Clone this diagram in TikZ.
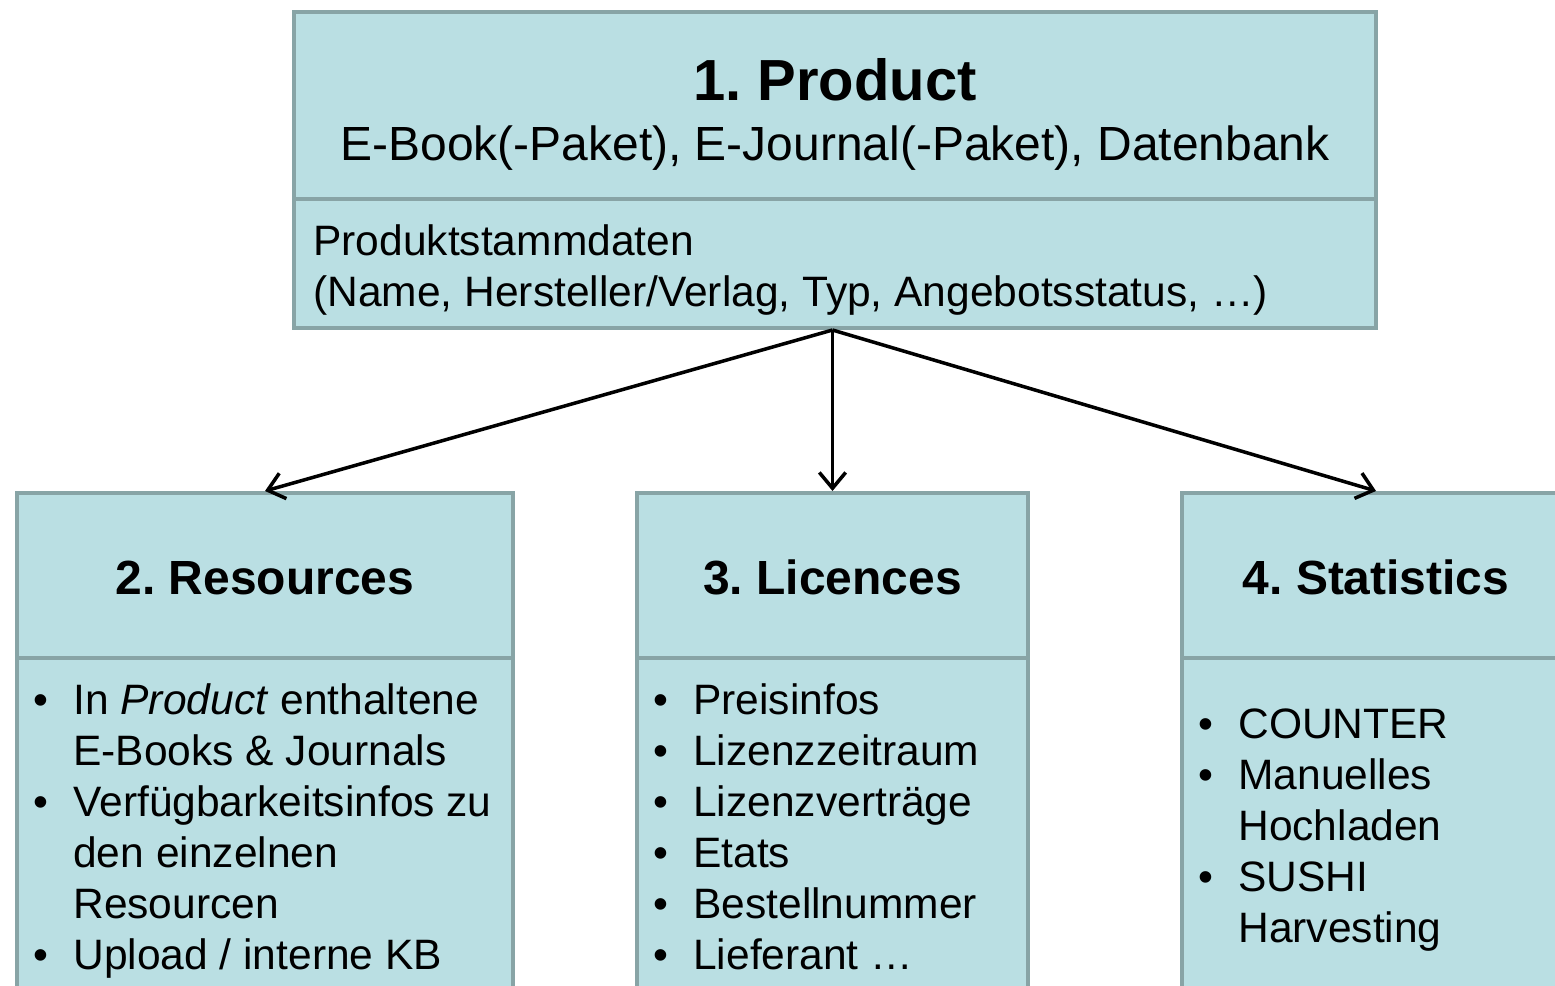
\documentclass[tikz,border=0pt]{standalone}
\usepackage{fontspec}
\setmainfont{Liberation Sans}
\usetikzlibrary{arrows.meta}
\definecolor{boxfill}{HTML}{BADFE3}
\definecolor{boxline}{HTML}{88A4A6}
\newcommand{\itm}{\makebox[0.8cm][l]{\textbullet}}
\newcommand{\cnt}{\hspace*{0.8cm}}
\frenchspacing

\begin{document}
\begin{tikzpicture}
      [x = 0.02cm, y = -0.02cm,
      box/.style = {
         draw = boxline,
         fill = boxfill,
         line width = 2.3pt,
         inner sep = 0pt
      },
      title/.style = {font = \fontsize{33}{38}\selectfont\bfseries, inner sep = 0pt, anchor = base},
      head/.style = {font = \fontsize{27.3}{32}\selectfont\bfseries, inner sep = 0pt, anchor = base},
      sub/.style = {font = \fontsize{27.3}{32}\selectfont, inner sep = 0pt, anchor = base},
      txt/.style = {font = \fontsize{24.2}{29}\selectfont, inner sep = 0pt, anchor = base west, align = left},
      link/.style = {-{Straight Barb[length = 9pt, width = 15pt]}, line width = 2pt}]

      \useasboundingbox (0, 0) rectangle (1555, 985);
      \clip (0, 0) rectangle (1555, 985);

      % product box
      \node[box, minimum width = 21.64cm, minimum height = 2.58cm] (proddata) at (835, 263.5) {};
      \node[box, minimum width = 21.64cm, minimum height = 3.74cm] (prodhead) at (835, 105.5) {};
      \node[title] (prodtitle) at (835, 100) {1. Product};
      \node[sub] (prodsub) at (835, 160) {E-Book(-Paket), E-Journal(-Paket), Datenbank};
      \node[txt] (prodinfo) at (313, 306) {Produktstammdaten\\(Name, Hersteller/Verlag, Typ, Angebotsstatus, …)};

      % lower boxes
      \node[box, minimum width = 9.92cm, minimum height = 7.24cm] (resdata) at (265, 839) {};
      \node[box, minimum width = 9.92cm, minimum height = 3.3cm] (reshead) at (265, 575.5) {};
      \node[box, minimum width = 7.82cm, minimum height = 7.24cm] (licdata) at (832.5, 839) {};
      \node[box, minimum width = 7.82cm, minimum height = 3.3cm] (lichead) at (832.5, 575.5) {};
      \node[box, minimum width = 8.36cm, minimum height = 7.24cm] (statdata) at (1391, 839) {};
      \node[box, minimum width = 8.36cm, minimum height = 3.3cm] (stathead) at (1391, 575.5) {};

      \node[head] (restitle) at (265, 594) {2. Resources};
      \node[head] (lictitle) at (832.5, 594) {3. Licences};
      \node[head] (stattitle) at (1376, 594) {4. Statistics};

      % lists (base = last line)
      \node[txt] (reslist) at (33, 969) {\itm In \textit{Product} enthaltene\\
         \cnt E-Books \& Journals\\
         \itm Verfügbarkeitsinfos zu\\
         \cnt den einzelnen\\
         \cnt Resourcen\\
         \itm Upload / interne KB};
      \node[txt] (liclist) at (653, 969) {\itm Preisinfos\\
         \itm Lizenzzeitraum\\
         \itm Lizenzverträge\\
         \itm Etats\\
         \itm Bestellnummer\\
         \itm Lieferant …};
      \node[txt] (statlist) at (1198, 942) {\itm COUNTER\\
         \itm Manuelles\\
         \cnt Hochladen\\
         \itm SUSHI\\
         \cnt Harvesting};

      \draw[link] (proddata.south -| lichead) -- (reshead.north);
      \draw[link] (proddata.south -| lichead) -- (lichead.north);
      \draw[link] (proddata.south -| lichead) -- (stathead.north -| stattitle);

   \end{tikzpicture}
\end{document}
